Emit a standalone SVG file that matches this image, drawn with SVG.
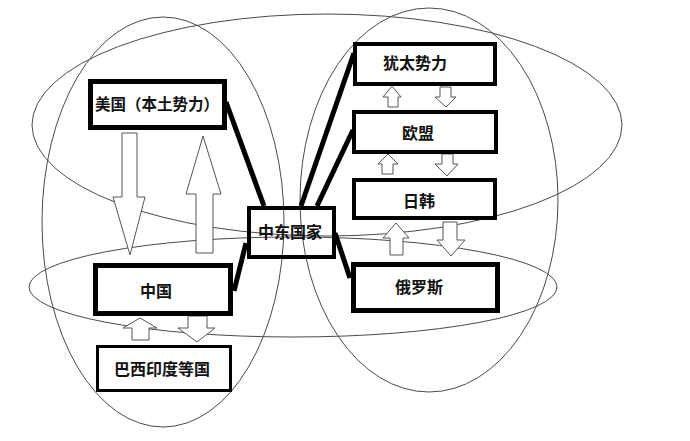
<svg xmlns="http://www.w3.org/2000/svg" width="690" height="441" viewBox="0 0 690 441">
<style>
.ell{fill:none;stroke:#4a4a4a;stroke-width:1}
.box{fill:none;stroke:#000}
.lbl{font-family:"Noto Sans CJK SC","Noto Sans",sans-serif;font-size:16px;font-weight:bold;fill:#111;text-anchor:middle}
.arr{fill:#fff;stroke:#555;stroke-width:1}
.con{stroke:#000;stroke-width:5;stroke-linecap:butt;fill:none}
</style>
<rect width="690" height="441" fill="#fff"/>
<g id="groups">
<ellipse class="ell" cx="163" cy="222" rx="121" ry="205"/>
<ellipse class="ell" cx="429" cy="200" rx="129" ry="192"/>
<ellipse class="ell" cx="327" cy="125" rx="295" ry="111"/>
<ellipse class="ell" cx="293" cy="287" rx="264" ry="50"/>
</g>
<g id="arrows">
<polygon class="arr" points="122,133 137,133 137,197 145,197 130,255 113,197 122,197"/>
<polygon class="arr" points="203,136 221,194 213,194 213,253 196,253 196,194 186,194"/>
<polygon class="arr" points="140,318 157,328 149,328 149,340 132,340 132,328 123,328"/>
<polygon class="arr" points="188,316 207,316 207,328 215,328 197,342 178,328 188,328"/>
<polygon class="arr" points="392,86 401,97 398,97 398,107 388,107 388,97 383,97"/>
<polygon class="arr" points="440,87 451,87 451,97 456,97 446,107 435,97 440,97"/>
<polygon class="arr" points="388,154 398,164 393,164 393,174 382,174 382,164 378,164"/>
<polygon class="arr" points="442,154 453,154 453,164 458,164 447,176 435,164 442,164"/>
<polygon class="arr" points="396,223 409,238 403,238 403,255 390,255 390,238 383,238"/>
<polygon class="arr" points="443,222 457,222 457,240 465,240 451,256 437,240 443,240"/>
</g>
<g id="connectors">
<line class="con" x1="226" y1="102" x2="264" y2="206"/>
<line class="con" x1="354" y1="53" x2="301" y2="206"/>
<line class="con" x1="353" y1="130" x2="317" y2="206"/>
<line class="con" x1="335" y1="233" x2="350" y2="278"/>
<line class="con" x1="246" y1="243" x2="234" y2="291"/>
</g>
<g id="n-usa">
<rect class="box" x="90.5" y="81.5" width="134" height="46" stroke-width="5"/>
<text class="lbl" x="157" y="110" style="font-size:15.5px">美国（本土势力）</text>
</g>
<g id="n-mideast">
<rect class="box" x="249" y="208" width="85" height="49" stroke-width="4"/>
<text class="lbl" x="290" y="238">中东国家</text>
</g>
<g id="n-china">
<rect class="box" x="95.5" y="265.5" width="135" height="48" stroke-width="5"/>
<text class="lbl" x="156" y="297">中国</text>
</g>
<g id="n-brics">
<rect class="box" x="97.5" y="346.5" width="133" height="44" stroke-width="3"/>
<text class="lbl" x="162" y="375">巴西印度等国</text>
</g>
<g id="n-jewish">
<rect class="box" x="355" y="44" width="140" height="40" stroke-width="4"/>
<text class="lbl" x="415" y="69">犹太势力</text>
</g>
<g id="n-eu">
<rect class="box" x="354" y="112" width="142" height="40" stroke-width="4"/>
<text class="lbl" x="418" y="139">欧盟</text>
</g>
<g id="n-jpkr">
<rect class="box" x="354" y="180" width="141" height="38" stroke-width="4"/>
<text class="lbl" x="419" y="207">日韩</text>
</g>
<g id="n-russia">
<rect class="box" x="353.5" y="264.5" width="144" height="46" stroke-width="5"/>
<text class="lbl" x="419" y="293">俄罗斯</text>
</g>
</svg>
